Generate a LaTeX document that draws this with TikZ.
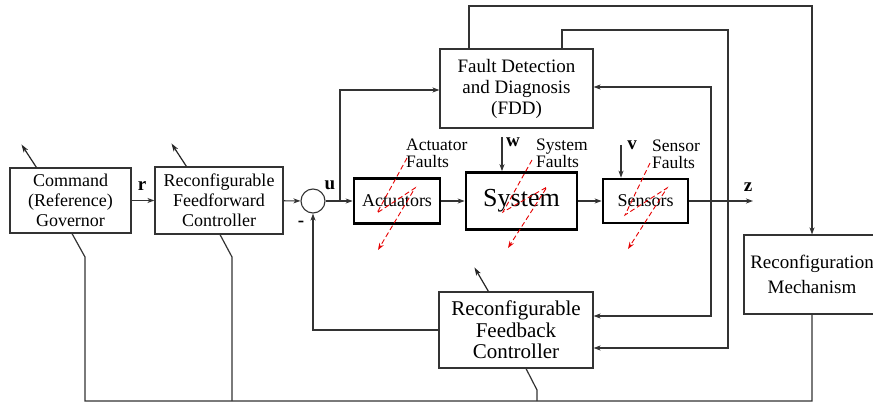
\documentclass[tikz,border=0pt]{standalone}
\usepackage{fontspec}
\setmainfont{Liberation Serif}
\usetikzlibrary{positioning, arrows.meta, calc}

\begin{document}
\begin{tikzpicture}[
  x=1pt, y=-1pt,
  font=\fontsize{18}{20}\selectfont,
  box/.style={draw=black!80, line width=1.1pt, inner sep=0pt, align=center},
  plant/.style={draw=black, line width=2.6pt, inner sep=0pt, align=center},
  sumpt/.style={draw=black!80, line width=1.1pt, circle, minimum size=24pt, inner sep=0pt},
  sig/.style={-{Stealth[length=7pt, width=5pt, inset=2pt]}, line width=1.2pt, black!80},
  bus/.style={line width=1.2pt, black!80},
  adj/.style={-{Stealth[length=8pt, width=5pt, inset=2pt]}, line width=1.2pt, black!85},
  bolt/.style={-{Stealth[length=7pt, width=5pt, open]}, red!90!black, dash pattern=on 5pt off 3pt, line width=0.9pt},
  flabel/.style={align=left, anchor=west, inner sep=0pt, font=\fontsize{17.5}{17}\selectfont},
  sglabel/.style={inner sep=0pt, font=\fontsize{19}{19}\selectfont\bfseries},
]
  \useasboundingbox (0,0) rectangle (873,403);

  % Controller chain
  \node[box, minimum width=121pt, minimum height=65pt] (gov) at (70.5,200.5) {Command\\(Reference)\\Governor};
  \node[box, minimum width=128pt, minimum height=67pt] (ff) at (219,200.5) {Reconfigurable\\Feedforward\\Controller};
  \node[sumpt] (sum) at (313,201) {};

  % Plant with actuators and sensors
  \node[plant, minimum width=86pt, minimum height=45pt] (act) at (397,201) {Actuators};
  \node[plant, minimum width=111pt, minimum height=57pt, font=\fontsize{26}{28}\selectfont] (sys) at (521.5,201) {System};
  \node[plant, minimum width=85pt, minimum height=44pt] (sen) at (645.5,201) {Sensors};

  % Supervision blocks
  \node[box, minimum width=153pt, minimum height=79pt, font=\fontsize{19}{21}\selectfont] (fdd) at (516.5,88.5) {Fault Detection\\and Diagnosis\\(FDD)};
  \node[box, minimum width=154pt, minimum height=76pt, font=\fontsize{21}{21.5}\selectfont] (fb) at (516,330) {Reconfigurable\\Feedback\\Controller};
  \node[box, minimum width=136pt, minimum height=79pt, font=\fontsize{19}{25}\selectfont] (rm) at (812,274.5) {Reconfiguration\\Mechanism};

  % Signal labels
  \node[sglabel] (rlab) at (142,186) {r};
  \node[sglabel] (ulab) at (330,185) {u};
  \node[sglabel] (wlab) at (513,142) {w};
  \node[sglabel] (vlab) at (632,145) {v};
  \node[sglabel] (zlab) at (748,187) {z};
  \node[sglabel] (minus) at (301,224) {-};

  % Fault labels
  \node[flabel] (afl) at (406,153) {Actuator\\Faults};
  \node[flabel] (sfl) at (536,153) {System\\Faults};
  \node[flabel] (nfl) at (652,154) {Sensor\\Faults};

  \coordinate (ubr) at (340,201);
  \coordinate (zend) at (753,201);
  \coordinate (win) at (502,137);
  \coordinate (vin) at (621,145);
  \coordinate (m1) at (711,201);
  \coordinate (t1) at (469,6);
  \coordinate (t3) at (562,30);
  \coordinate (t4) at (728,348);

  % Forward path
  \foreach \a/\b in {gov/ff, ff/sum, sum/act, act/sys, sys/sen}
    \draw[sig] (\a) -- (\b);
  \draw[sig] (sen) -- (zend);
  \draw[sig] (win) -- (win |- sys.north);
  \draw[sig] (vin) -- (vin |- sen.north);

  % Feedback and FDD paths
  \draw[sig] (fb.west) -| (sum);
  \draw[sig] (ubr) |- ([yshift=-1.5pt]fdd.west);
  \draw[sig] (m1) |- ([yshift=1.5pt]fdd.east);
  \draw[sig] (m1) |- ([yshift=14pt]fb.east);
  \draw[sig] (t1 |- fdd.north) -- (t1) -| (rm);
  \draw[sig] (t3 |- fdd.north) -- (t3) -| (t4) -- (t4 -| fb.east);

  % Adjustment bus
  \coordinate (b0) at (85,401);
  \coordinate (b1) at (232,401);
  \coordinate (b2) at (537,401);
  \draw[bus] (rm) |- (b0) -- ++(0,-144) -- ([xshift=1.5pt]gov.south);
  \draw[bus] (b1) -- ++(0,-144) -- ([xshift=1pt]ff.south);
  \draw[bus] (b2) -- ++(0,-11) -- ([xshift=10pt]fb.south);

  % Adjustable blocks
  \draw[adj] ([xshift=27pt]gov.north west) -- ++(-15,-23);
  \draw[adj] ([xshift=32pt]ff.north west) -- ++(-15,-23);
  \draw[adj] ([xshift=50pt]fb.north west) -- ++(-14,-24);

  % Fault bolts
  \draw[bolt] (407,158) -- (377,213) -- (415,188) -- (378,250);
  \draw[bolt] (532,160) -- (503,212) -- (547,187) -- (508,248);
  \draw[bolt] (650,163) -- (625,215) -- (667,188) -- (628,249);
\end{tikzpicture}
\end{document}
